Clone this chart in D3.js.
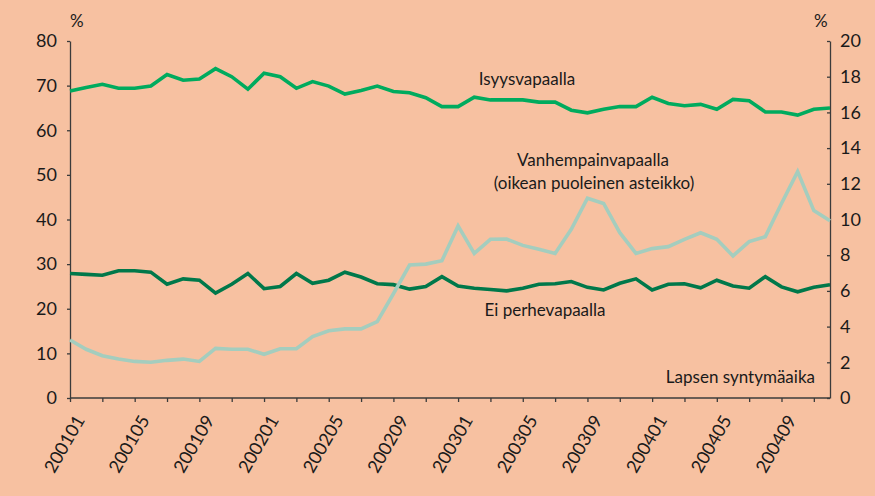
<!DOCTYPE html>
<html>
<head>
<meta charset="utf-8">
<script src="https://cdn.jsdelivr.net/npm/d3@7"></script>
<style>
  html, body { margin: 0; padding: 0; background: #f7c1a1; }
  svg { display: block; }
  text { font-family: Lato, "Open Sans", sans-serif; fill: #1a1a1a; }
</style>
</head>
<body>
<div id="chart"></div>
<script>
// monthly categories 2001-01 .. 2004-12
const months = [
  "200101","200102","200103","200104","200105","200106","200107","200108","200109","200110","200111","200112",
  "200201","200202","200203","200204","200205","200206","200207","200208","200209","200210","200211","200212",
  "200301","200302","200303","200304","200305","200306","200307","200308","200309","200310","200311","200312",
  "200401","200402","200403","200404","200405","200406","200407","200408","200409","200410","200411","200412"
]

// left scale, %
const isyysvapaalla = [
  68.8, 69.6, 70.3, 69.4, 69.4, 69.9, 72.5, 71.2, 71.5, 73.8, 72.0, 69.2,
  72.8, 72.0, 69.4, 70.9, 69.9, 68.1, 68.9, 69.9, 68.7, 68.4, 67.3, 65.3,
  65.3, 67.4, 66.8, 66.8, 66.8, 66.3, 66.3, 64.5, 63.9, 64.7, 65.3, 65.3,
  67.4, 66.0, 65.5, 65.8, 64.7, 66.9, 66.6, 64.1, 64.1, 63.4, 64.7, 65.0
]
const eiPerhevapaalla = [
  27.9, 27.7, 27.5, 28.5, 28.5, 28.2, 25.5, 26.7, 26.4, 23.5, 25.5, 27.9,
  24.5, 25.0, 27.9, 25.7, 26.4, 28.2, 27.1, 25.6, 25.4, 24.4, 25.0, 27.2,
  25.1, 24.6, 24.3, 24.0, 24.6, 25.5, 25.6, 26.1, 24.8, 24.2, 25.7, 26.7,
  24.2, 25.5, 25.6, 24.7, 26.4, 25.1, 24.6, 27.2, 24.9, 23.8, 24.8, 25.4
]
// right scale, %
const vanhempainvapaalla = [
  3.25, 2.73, 2.37, 2.18, 2.05, 2.00, 2.11, 2.18, 2.05, 2.78, 2.73, 2.73,
  2.45, 2.76, 2.76, 3.44, 3.77, 3.87, 3.87, 4.28, 5.84, 7.45, 7.50, 7.69,
  9.64, 8.10, 8.89, 8.90, 8.55, 8.33, 8.10, 9.45, 11.19, 10.9, 9.26, 8.10,
  8.37, 8.48, 8.89, 9.26, 8.89, 7.96, 8.76, 9.04, 10.9, 12.68, 10.5, 9.93
]

const leftTicks = [0, 10, 20, 30, 40, 50, 60, 70, 80]
const rightTicks = [0, 2, 4, 6, 8, 10, 12, 14, 16, 18, 20]

const width = 875, height = 496
const svg = d3.select("#chart").append("svg")
  .attr("width", width).attr("height", height)

svg.append("rect").attr("width", width).attr("height", height).attr("fill", "#f7c1a1")

const x = d3.scalePoint().domain(months).range([70, 830])
const yL = d3.scaleLinear().domain([0, 80]).range([398, 41])
const yR = d3.scaleLinear().domain([0, 20]).range([398, 41])

const axisColor = "#3b3b3b"

// left axis
const gL = svg.append("g").attr("transform", "translate(70,0)")
  .call(d3.axisLeft(yL).tickValues(leftTicks).tickSize(3).tickSizeOuter(0).tickPadding(10))
gL.selectAll("text").style("font-size", "18px")

// right axis
const gR = svg.append("g").attr("transform", "translate(830,0)")
  .call(d3.axisRight(yR).tickValues(rightTicks).tickSize(-3).tickSizeOuter(0).tickPadding(10))
gR.selectAll("text").style("font-size", "18px")

// bottom axis, ticks every second month, labels every fourth
const gX = svg.append("g").attr("transform", "translate(0,398)")
  .call(d3.axisBottom(x).tickValues(months.filter((d, i) => i % 2 === 0)).tickSize(4).tickSizeOuter(0)
    .tickFormat((d, i) => i % 2 === 0 ? d : ""))
gX.select(".domain").attr("d", "M70,0H830")
gX.selectAll("text")
  .style("font-size", "18px")
  .attr("text-anchor", "end")
  .attr("dy", null).attr("y", null)
  .attr("transform", "translate(15,22) rotate(-60)")

svg.selectAll(".domain, .tick line").attr("stroke", axisColor).attr("stroke-width", 1.3)

// % unit labels
svg.append("text").attr("x", 70).attr("y", 27).style("font-size", "17px").text("%")
svg.append("text").attr("x", 814).attr("y", 27).style("font-size", "17px").text("%")

// lines
const lineL = d3.line().x((d, i) => x(months[i])).y(d => yL(d))
const lineR = d3.line().x((d, i) => x(months[i])).y(d => yR(d))

const series = [
  { values: eiPerhevapaalla, line: lineL, color: "#00784a" },
  { values: isyysvapaalla, line: lineL, color: "#00ab5e" },
  { values: vanhempainvapaalla, line: lineR, color: "#a4cdbe" }
]
svg.selectAll("path.series").data(series).join("path")
  .attr("class", "series")
  .attr("fill", "none")
  .attr("stroke", d => d.color)
  .attr("stroke-width", 3.6)
  .attr("stroke-linejoin", "miter")
  .attr("d", d => d.line(d.values))

// annotations
const notes = [
  { text: "Isyysvapaalla", x: 527, y: 85, anchor: "middle" },
  { text: "Vanhempainvapaalla", x: 593, y: 166, anchor: "middle" },
  { text: "(oikean puoleinen asteikko)", x: 594, y: 189, anchor: "middle" },
  { text: "Ei perhevapaalla", x: 545, y: 316, anchor: "middle" },
  { text: "Lapsen syntymäaika", x: 815, y: 383, anchor: "end" }
]
svg.selectAll("text.note").data(notes).join("text")
  .attr("class", "note")
  .attr("x", d => d.x).attr("y", d => d.y)
  .attr("text-anchor", d => d.anchor)
  .style("font-size", "17px")
  .text(d => d.text)
</script>
</body>
</html>
